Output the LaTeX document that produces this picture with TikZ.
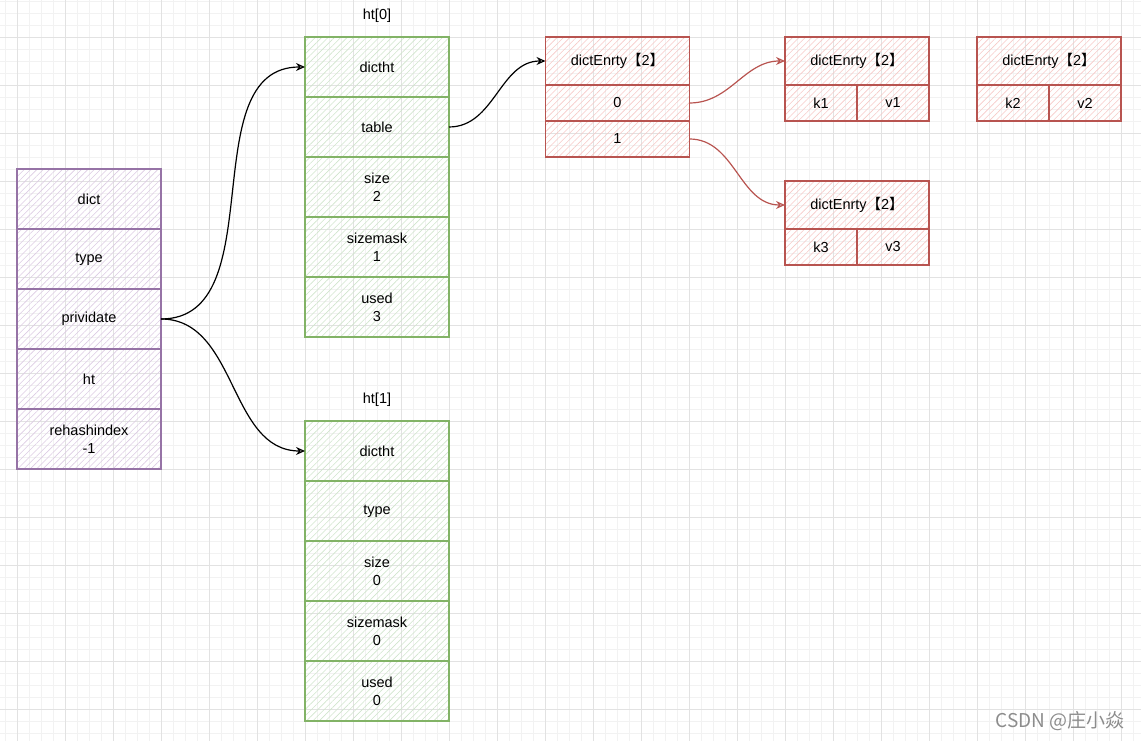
\documentclass[tikz,border=0pt]{standalone}
\usepackage{fontspec}
\setmainfont{Liberation Sans}
\newfontfamily\cjk{Noto Sans CJK SC}
\usetikzlibrary{arrows.meta,%
                patterns.meta,positioning}
\definecolor{dictline}{HTML}{9673A6}
\definecolor{dicthatch}{HTML}{DCCBE3}
\definecolor{htline}{HTML}{82B366}
\definecolor{hthatch}{HTML}{D0E5CC}
\definecolor{entryline}{HTML}{B85450}
\definecolor{entryhatch}{HTML}{F6C9C7}
\definecolor{gridminor}{HTML}{F2F2F2}
\definecolor{gridmajor}{HTML}{E2E2E2}
\newcommand{\entrytitle}{dictEnrty{\cjk 【}2{\cjk 】}}

\begin{document}
\begin{tikzpicture}[x = 1pt, y = 1pt, node distance = 0pt,
                    font = \fontsize{14.5}{18}\selectfont]
  \useasboundingbox (0,0) rectangle (1141,741);
  \tikzset{CellStyle/.style  = {draw,
                                shape          = rectangle,
                                inner sep      = 0pt,
                                outer sep      = 0pt,
                                line width     = 1.1pt,
                                align          = center,
                                text           = black}}
  \tikzset{DictStyle/.style  = {CellStyle,
                                draw           = dictline,
                                pattern        = {Lines[angle=45,distance=4.5pt,line width=0.6pt]},
                                pattern color  = dicthatch,
                                minimum width  = 144pt,
                                minimum height = 60pt}}
  \tikzset{HtStyle/.style    = {DictStyle,
                                draw           = htline,
                                pattern color  = hthatch}}
  \tikzset{EntryStyle/.style = {DictStyle,
                                draw           = entryline,
                                pattern color  = entryhatch,
                                minimum height = 36pt}}
  \tikzset{LinkStyle/.style  = {line width     = 1.2pt,
                                -{Stealth[open, length=9pt, width=8pt]}}}
  % background grid
  \foreach \gx in {5,17,...,1141}
    \draw[gridminor, line width=0.6pt] (\gx,0) -- (\gx,741);
  \foreach \gy in {8,20,...,740}
    \draw[gridminor, line width=0.6pt] (0,\gy) -- (1141,\gy);
  \foreach \gx in {17,65,...,1141}
    \draw[gridmajor, line width=0.6pt] (\gx,0) -- (\gx,741);
  \foreach \gy in {32,80,...,741}
    \draw[gridmajor, line width=0.6pt] (0,\gy) -- (1141,\gy);

  % dict
     \node[DictStyle] at (89,542) (dict) {dict};
     \node[DictStyle,below=of dict](type){type};
     \node[DictStyle,below=of type](priv){prividate};
     \node[DictStyle,below=of priv](ht){ht};
     \node[DictStyle,below=of ht](rehash){rehashindex\\-1};

  % ht[0]
     \node[HtStyle] at (377,674) (ta){dictht};
     \node[HtStyle,below=of ta](tb){table};
     \node[HtStyle,below=of tb](tc){size\\2};
     \node[HtStyle,below=of tc](td){sizemask\\1};
     \node[HtStyle,below=of td](te){used\\3};
     \node[inner sep=0pt,above=14pt of ta](labA){ht[0]};

  % ht[1]
     \node[HtStyle] at (377,290) (ua){dictht};
     \node[HtStyle,below=of ua](ub){type};
     \node[HtStyle,below=of ub](uc){size\\0};
     \node[HtStyle,below=of uc](ud){sizemask\\0};
     \node[HtStyle,below=of ud](ue){used\\0};
     \node[inner sep=0pt,above=14pt of ua](labB){ht[1]};

  % table of entries
     \node[EntryStyle,minimum height=48pt] at (617.5,680) (arr){\entrytitle};
     \node[EntryStyle,below=of arr](slot0){0};
     \node[EntryStyle,below=of slot0](slot1){1};

  % entries
     \node[EntryStyle,minimum height=48pt] at (857,680) (ea){\entrytitle};
     \node[EntryStyle,minimum width=72pt,below right=of ea.south west](ka){k1};
     \node[EntryStyle,minimum width=72pt,right=of ka](va){v1};

     \node[EntryStyle,minimum height=48pt] at (1049,680) (eb){\entrytitle};
     \node[EntryStyle,minimum width=72pt,below right=of eb.south west](kb){k2};
     \node[EntryStyle,minimum width=72pt,right=of kb](vb){v2};

     \node[EntryStyle,minimum height=48pt] at (857,536) (ec){\entrytitle};
     \node[EntryStyle,minimum width=72pt,below right=of ec.south west](kc){k3};
     \node[EntryStyle,minimum width=72pt,right=of kc](vc){v3};

     \draw[LinkStyle](priv.east) to[out=0,in=180] (ta.west);
     \draw[LinkStyle](priv.east) to[out=0,in=180] (ua.west);
     \draw[LinkStyle](tb.east) to[out=0,in=180] (arr.west);
     \tikzset{LinkStyle/.append style = {entryline}}
     \draw[LinkStyle](slot0.east) to[out=0,in=180] (ea.west);
     \draw[LinkStyle](slot1.east) to[out=0,in=180] (ec.west);

     \node[text=black!45, font=\cjk\fontsize{19}{22}\selectfont] at (1060,20) (mark){CSDN @庄小焱};
\end{tikzpicture}
\end{document}
